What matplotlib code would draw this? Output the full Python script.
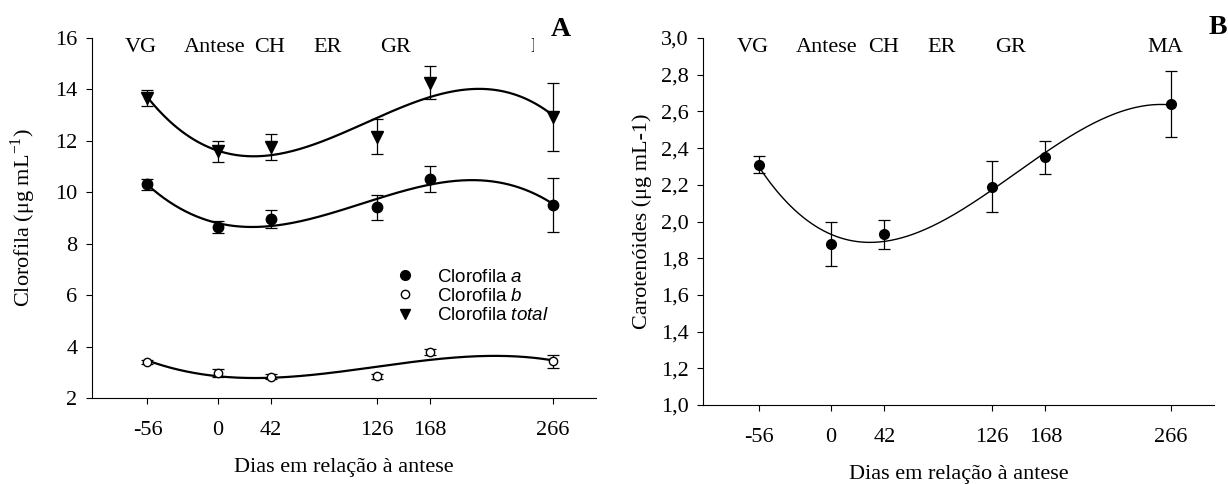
import numpy as np
import matplotlib
matplotlib.use("Agg")
import matplotlib.pyplot as plt
from matplotlib.lines import Line2D

plt.rcParams['font.family'] = 'Liberation Serif'
plt.rcParams['mathtext.fontset'] = 'custom'
plt.rcParams['mathtext.rm'] = 'Liberation Serif'
plt.rcParams['mathtext.it'] = 'Liberation Sans:italic'
plt.rcParams['axes.unicode_minus'] = False

# dias em relacao a antese
dias = [-56, 0, 42, 126, 168, 266]
dias_labels = ['-56', '0', '42', '126', '168', '266']

clor_a = [10.31, 8.65, 8.95, 9.41, 10.52, 9.52]
clor_a_err = [0.22, 0.25, 0.35, 0.50, 0.52, 1.05]
clor_b = [3.40, 2.97, 2.82, 2.84, 3.80, 3.42]
clor_b_err = [0.06, 0.15, 0.10, 0.10, 0.12, 0.25]
clor_total = [13.65, 11.59, 11.75, 12.16, 14.26, 12.92]
clor_total_err = [0.31, 0.42, 0.50, 0.68, 0.65, 1.32]

carot = [2.31, 1.88, 1.93, 2.19, 2.35, 2.64]
carot_err = [0.045, 0.12, 0.08, 0.14, 0.09, 0.18]

estadios = ['VG', 'Antese', 'CH', 'ER', 'GR', 'MA']
estadios_x = [-61, -3, 41, 87, 141, 262]

ticks_left = [2, 4, 6, 8, 10, 12, 14, 16]
ticks_right = [1.0, 1.2, 1.4, 1.6, 1.8, 2.0, 2.2, 2.4, 2.6, 2.8, 3.0]
ticks_right_labels = ['1,0', '1,2', '1,4', '1,6', '1,8', '2,0', '2,2', '2,4', '2,6', '2,8', '3,0']

W, H = 1228, 484
fig = plt.figure(figsize=(W / 100, H / 100), dpi=100)
axA = fig.add_axes([92 / W, (H - 398) / H, 504 / W, 360 / H])
axB = fig.add_axes([703 / W, (H - 405) / H, 511 / W, 367 / H])

xs = np.linspace(dias[0], dias[-1], 300)


def curva(ax, y, lw):
    coef = np.polyfit(dias, y, 3)
    ax.plot(xs, np.polyval(coef, xs), color='k', lw=lw, zorder=2)


def estilo(ax):
    ax.spines['top'].set_visible(False)
    ax.spines['right'].set_visible(False)
    ax.set_xlim(-100, 300)
    ax.set_xticks(dias)
    ax.set_xticklabels(dias_labels)
    ax.tick_params(direction='out', length=4.5, width=0.8, labelsize=16)
    ax.tick_params(axis='x', pad=12)
    ax.tick_params(axis='y', pad=6)
    ax.set_xlabel('Dias em relação à antese', fontsize=16, labelpad=13)
    for nome, x in zip(estadios, estadios_x):
        ax.text(x, 0.975, nome, transform=ax.get_xaxis_transform(),
                ha='center', va='center', fontsize=16)


# painel A
estilo(axA)
axA.set_ylim(2, 16)
axA.set_yticks(ticks_left)
axA.set_ylabel('Clorofila (μg mL$^{-1}$)', fontsize=16, labelpad=12)

curva(axA, clor_total, 1.6)
curva(axA, clor_a, 1.6)
curva(axA, clor_b, 1.6)
eb = dict(color='k', capsize=4, elinewidth=0.9, capthick=0.9, zorder=3)
axA.errorbar(dias, clor_total, yerr=clor_total_err, fmt='v', ms=8, **eb)
axA.errorbar(dias, clor_a, yerr=clor_a_err, fmt='o', ms=7.5, **eb)
axA.errorbar(dias, clor_b, yerr=clor_b_err, fmt='o', ms=6, mfc='white', mec='k', **eb)

handles = [
    Line2D([], [], ls='none', marker='o', color='k', ms=7),
    Line2D([], [], ls='none', marker='o', color='k', mfc='white', ms=6),
    Line2D([], [], ls='none', marker='v', color='k', ms=7),
]
labels = ['Clorofila $\\mathit{a}$', 'Clorofila $\\mathit{b}$', 'Clorofila $\\mathit{total}$']
axA.legend(handles, labels, loc='upper left', bbox_to_anchor=(0.602, 0.36),
           frameon=False, prop={'family': 'Liberation Sans', 'size': 13.5},
           handlelength=1.0, handletextpad=1.2, labelspacing=0.12,
           borderpad=0, borderaxespad=0)

# painel B
estilo(axB)
axB.set_ylim(1.0, 3.0)
axB.set_yticks(ticks_right)
axB.set_yticklabels(ticks_right_labels)
axB.set_ylabel('Carotenóides (μg mL-1)', fontsize=16, labelpad=6)
curva(axB, carot, 1.0)
axB.errorbar(dias, carot, yerr=carot_err, fmt='o', ms=7, **eb)

fig.text(561 / W, 1 - 30 / H, 'A', fontsize=20, fontweight='bold', ha='center', va='center',
         bbox=dict(fc='white', ec='none', pad=12), zorder=10)
fig.text(1218 / W, 1 - 28 / H, 'B', fontsize=20, fontweight='bold', ha='center', va='center')

fig.savefig('out.png', dpi=100)
